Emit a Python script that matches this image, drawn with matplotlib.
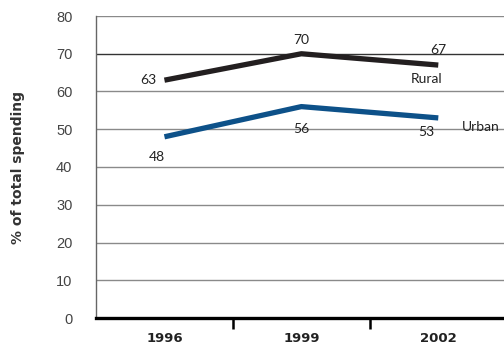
import matplotlib.pyplot as plt

years = ["1996", "1999", "2002"]
rural = [63, 70, 67]
urban = [48, 56, 53]
y_ticks = [0, 10, 20, 30, 40, 50, 60, 70, 80]

rural_color = "#231f20"
urban_color = "#0d5189"

fig = plt.figure(figsize=(5.04, 3.44), dpi=100)
ax = fig.add_axes([96 / 504, 26 / 344, 1 - 96 / 504, 302 / 344])

x = list(range(len(years)))
ax.set_xlim(-0.5, 2.48)
ax.set_ylim(0, 80)

# horizontal rules
for v in y_ticks[1:]:
    ax.axhline(v, color="#333333" if v == 70 else "#8a8a8a", lw=1.0, zorder=1)

ax.plot(x, rural, color=rural_color, lw=3.8, solid_capstyle="butt", zorder=3)
ax.plot(x, urban, color=urban_color, lw=3.8, solid_capstyle="butt", zorder=3)

lab_font = dict(family=["Lato", "DejaVu Sans"], fontsize=10, color="#222222")

# value labels, offsets in pixels from each point
rural_off = [(-8, 0, "right", "center"), (0, 8, "center", "bottom"), (0, 9, "center", "bottom")]
urban_off = [(-8, -14, "center", "top"), (0, -16, "center", "top"), (-12, -8, "center", "top")]
for i, (dx, dy, ha, va) in enumerate(rural_off):
    ax.annotate(str(rural[i]), (x[i], rural[i]), xytext=(dx, dy), textcoords="offset pixels",
                ha=ha, va=va, **lab_font)
for i, (dx, dy, ha, va) in enumerate(urban_off):
    ax.annotate(str(urban[i]), (x[i], urban[i]), xytext=(dx, dy), textcoords="offset pixels",
                ha=ha, va=va, **lab_font)

ax.annotate("Rural", (x[2], rural[2]), xytext=(-12, -14), textcoords="offset pixels",
            ha="center", va="center", **lab_font)
ax.annotate("Urban", (x[2], urban[2]), xytext=(42, -9), textcoords="offset pixels",
            ha="center", va="center", **lab_font)

# axes styling
for s in ["top", "right"]:
    ax.spines[s].set_visible(False)
ax.spines["left"].set_color("#666666")
ax.spines["left"].set_linewidth(1.0)
ax.spines["bottom"].set_color("black")
ax.spines["bottom"].set_linewidth(2.4)

ax.set_yticks(y_ticks)
ax.set_yticklabels([str(v) for v in y_ticks], family=["Liberation Sans", "DejaVu Sans"],
                   fontsize=10.5, color="#444444")
ax.tick_params(axis="y", length=0, pad=17)

ax.set_xticks(x)
ax.set_xticklabels(years, fontweight="bold", fontsize=9.5, color="#222222")
ax.set_xticks([0.5, 1.5], minor=True)
ax.tick_params(axis="x", which="major", length=0, pad=10)
ax.tick_params(axis="x", which="minor", length=8, width=1.8, color="black")

ax.set_ylabel("% of total spending", fontweight="bold", fontsize=10, color="#333333", labelpad=22)

fig.savefig("out.png", dpi=100)
